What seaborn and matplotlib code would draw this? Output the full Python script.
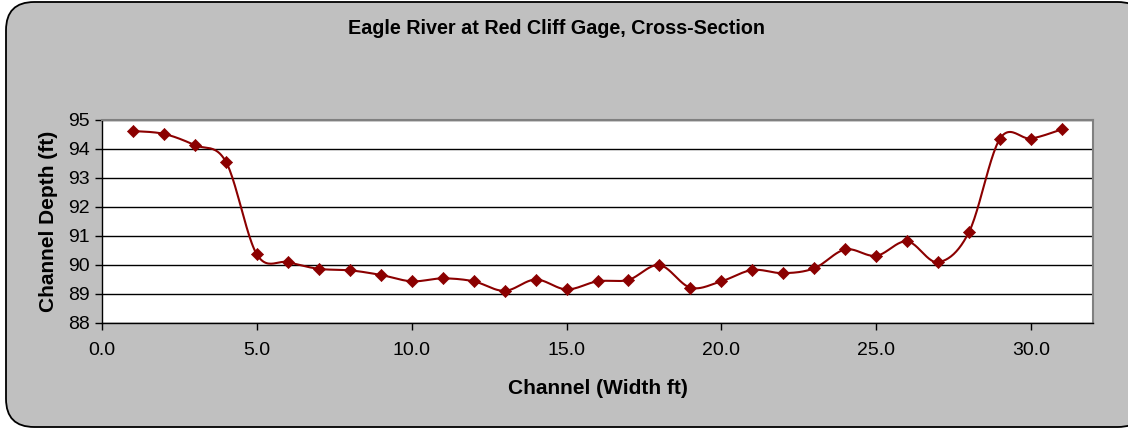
import numpy as np
import pandas as pd
import matplotlib
matplotlib.use("Agg")
import matplotlib.pyplot as plt
from matplotlib.patches import FancyBboxPatch
import seaborn as sns

# Survey stations across the channel and the measured bed elevation at each
station_ft = [1, 2, 3, 4, 5, 6, 7, 8, 9, 10, 11, 12, 13, 14, 15, 16,
              17, 18, 19, 20, 21, 22, 23, 24, 25, 26, 27, 28, 29, 30, 31]
depth_ft = [94.62, 94.52, 94.13, 93.56, 90.36, 90.09, 89.86, 89.81, 89.65,
            89.43, 89.53, 89.43, 89.10, 89.49, 89.15, 89.43, 89.48, 89.99,
            89.21, 89.43, 89.82, 89.71, 89.88, 90.53, 90.31, 90.81, 90.09,
            91.14, 94.36, 94.36, 94.68]

x_ticks = [0, 5, 10, 15, 20, 25, 30]
y_ticks = [88, 89, 90, 91, 92, 93, 94, 95]

title = "Eagle River at Red Cliff Gage, Cross-Section"
x_label = "Channel (Width ft)"
y_label = "Channel Depth (ft)"


def smooth_curve(x, y, steps=24):
    """Bezier smoothing through every point (spreadsheet-style smoothed line)."""
    p = np.column_stack([x, y]).astype(float)
    pts = [p[0]]
    n = len(p)
    t = np.linspace(0, 1, steps + 1)[1:]
    for i in range(n - 1):
        p0 = p[i - 1] if i > 0 else p[i]
        p1, p2 = p[i], p[i + 1]
        p3 = p[i + 2] if i + 2 < n else p[i + 1]
        c1 = p1 + (p2 - p0) / 6.0
        c2 = p2 - (p3 - p1) / 6.0
        for tt in t:
            b = ((1 - tt) ** 3) * p1 + 3 * ((1 - tt) ** 2) * tt * c1 \
                + 3 * (1 - tt) * tt ** 2 * c2 + tt ** 3 * p2
            pts.append(b)
    pts = np.array(pts)
    return pts[:, 0], pts[:, 1]


sns.set_theme(style="white")
plt.rcParams["font.family"] = ["Liberation Sans", "DejaVu Sans"]

fig = plt.figure(figsize=(11.28, 4.29), dpi=100)
fig.patch.set_facecolor("white")

# Rounded grey chart panel
panel = FancyBboxPatch((6 / 1128, 2 / 429), 1140 / 1128, 425 / 429,
                       boxstyle="round,pad=0,rounding_size=0.025",
                       transform=fig.transFigure, facecolor="#c0c0c0",
                       edgecolor="black", linewidth=1.3,
                       mutation_aspect=1128 / 429, zorder=-10)
fig.patches.append(panel)

ax = fig.add_axes([102 / 1128, 1 - 322.7 / 429, (1093 - 102) / 1128, (322.7 - 120) / 429])
ax.set_facecolor("white")

sx, sy = smooth_curve(station_ft, depth_ft)
curve = pd.DataFrame({"x": sx, "y": sy})
pts = pd.DataFrame({"x": station_ft, "y": depth_ft})

sns.lineplot(data=curve, x="x", y="y", sort=False, estimator=None,
             color="#8b0000", linewidth=1.5, ax=ax, zorder=3)
sns.scatterplot(data=pts, x="x", y="y", marker="D", s=38, color="#8b0000",
                edgecolor="#8b0000", linewidth=0.5, ax=ax, zorder=4)

ax.set_xlim(0, 32)
ax.set_ylim(88, 95)
ax.set_xticks(x_ticks)
ax.set_xticklabels([f"{v:.1f}" for v in x_ticks])
ax.set_yticks(y_ticks)
ax.set_yticklabels([str(v) for v in y_ticks])
ax.yaxis.grid(True, color="black", linewidth=1.0)
ax.xaxis.grid(False)
ax.set_axisbelow(True)

for side in ("top", "right"):
    ax.spines[side].set_visible(True)
    ax.spines[side].set_color("#808080")
    ax.spines[side].set_linewidth(1.5)
for side in ("left", "bottom"):
    ax.spines[side].set_color("black")
    ax.spines[side].set_linewidth(1.0)

ax.tick_params(axis="both", which="major", direction="out", length=5,
               width=1.0, color="black", labelsize=14, labelcolor="black",
               bottom=True, left=True)
ax.tick_params(axis="x", pad=9)
ax.tick_params(axis="y", pad=4)

ax.set_xlabel(x_label, fontsize=15, fontweight="bold", color="black", labelpad=14)
ax.set_ylabel(y_label, fontsize=15, fontweight="bold", color="black", labelpad=7)
fig.text(556 / 1128, 1 - 28 / 429, title, ha="center", va="center",
         fontsize=14.2, fontweight="bold", color="black")

fig.savefig("out.png", dpi=100, facecolor=fig.get_facecolor())
